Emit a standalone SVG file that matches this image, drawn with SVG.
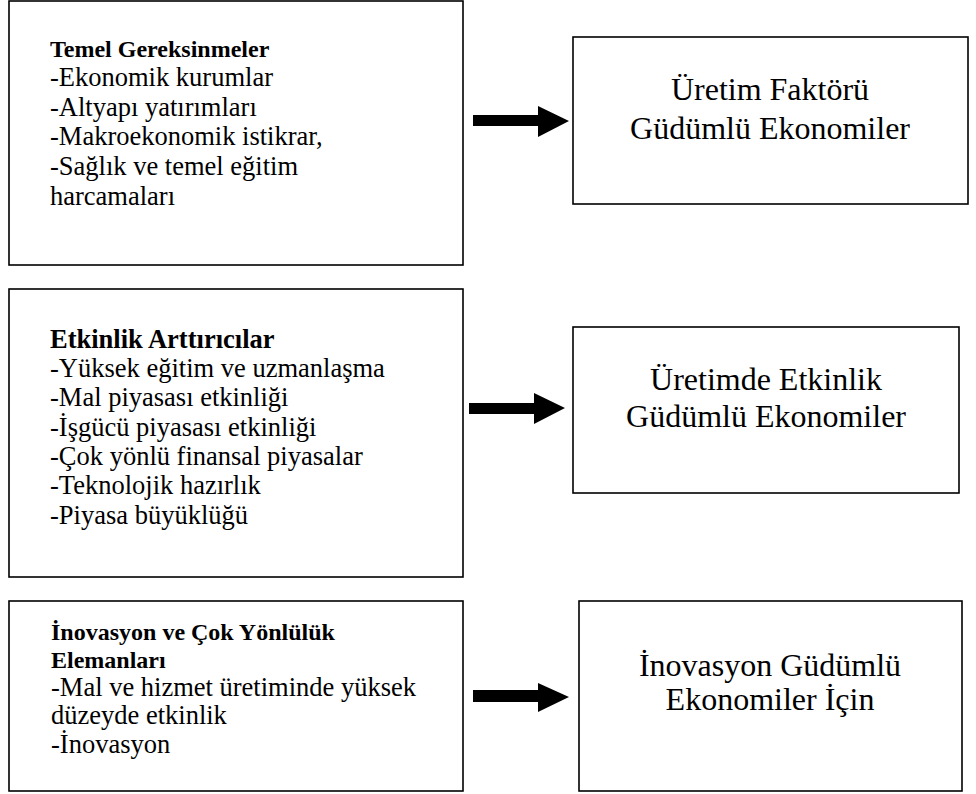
<svg xmlns="http://www.w3.org/2000/svg" width="976" height="794" viewBox="0 0 976 794">
<style>
.box{fill:#fff;stroke:#000;stroke-width:1.6}
.t{font-family:"Liberation Serif","Times New Roman",serif;fill:#000}
.body{font-size:26.5px}
.h{font-weight:bold;font-size:24px}
.h2{font-weight:bold;font-size:26.5px}
.big{font-size:32px;text-anchor:middle}
.arr{fill:#000}
</style>
<rect width="976" height="794" fill="#fff"/>
<g id="node-temel">
<rect class="box" x="9" y="1" width="454" height="264"/>
<text class="t h" x="50" y="57">Temel Gereksinmeler</text>
<text class="t body" x="50" y="86">-Ekonomik kurumlar</text>
<text class="t body" x="50" y="116">-Altyapı yatırımları</text>
<text class="t body" x="50" y="145">-Makroekonomik istikrar,</text>
<text class="t body" x="50" y="175">-Sağlık ve temel eğitim</text>
<text class="t body" x="50" y="205">harcamaları</text>
</g>
<g id="node-uretim">
<rect class="box" x="573" y="37" width="395" height="167"/>
<text class="t big" x="770" y="100">Üretim Faktörü</text>
<text class="t big" x="770" y="139">Güdümlü Ekonomiler</text>
</g>
<g id="node-etkinlik">
<rect class="box" x="9" y="289" width="454" height="288"/>
<text class="t h2" x="50" y="348">Etkinlik Arttırıcılar</text>
<text class="t body" x="50" y="377">-Yüksek eğitim ve uzmanlaşma</text>
<text class="t body" x="50" y="406">-Mal piyasası etkinliği</text>
<text class="t body" x="50" y="436">-İşgücü piyasası etkinliği</text>
<text class="t body" x="50" y="465">-Çok yönlü finansal piyasalar</text>
<text class="t body" x="50" y="494">-Teknolojik hazırlık</text>
<text class="t body" x="50" y="524">-Piyasa büyüklüğü</text>
</g>
<g id="node-uretimde">
<rect class="box" x="573" y="327" width="386" height="166"/>
<text class="t big" x="766" y="390">Üretimde Etkinlik</text>
<text class="t big" x="766" y="427">Güdümlü Ekonomiler</text>
</g>
<g id="node-inovasyon">
<rect class="box" x="9" y="601" width="454" height="190"/>
<text class="t h" x="51" y="640">İnovasyon ve Çok Yönlülük</text>
<text class="t h" x="51" y="668">Elemanları</text>
<text class="t body" x="51" y="696">-Mal ve hizmet üretiminde yüksek</text>
<text class="t body" x="51" y="724">düzeyde etkinlik</text>
<text class="t body" x="51" y="753">-İnovasyon</text>
</g>
<g id="node-inovasyon-gudumlu">
<rect class="box" x="579" y="601" width="383" height="190"/>
<text class="t big" x="770" y="676">İnovasyon Güdümlü</text>
<text class="t big" x="770" y="710">Ekonomiler İçin</text>
</g>
<g id="connectors">
<polygon class="arr" points="473,115 538,115 538,106 569,121 538,137 538,126 473,126"/>
<polygon class="arr" points="469,403 534,403 534,393 565,408 534,424 534,414 469,414"/>
<polygon class="arr" points="473,690 538,690 538,683 569,697 538,712 538,702 473,702"/>
</g>
</svg>
